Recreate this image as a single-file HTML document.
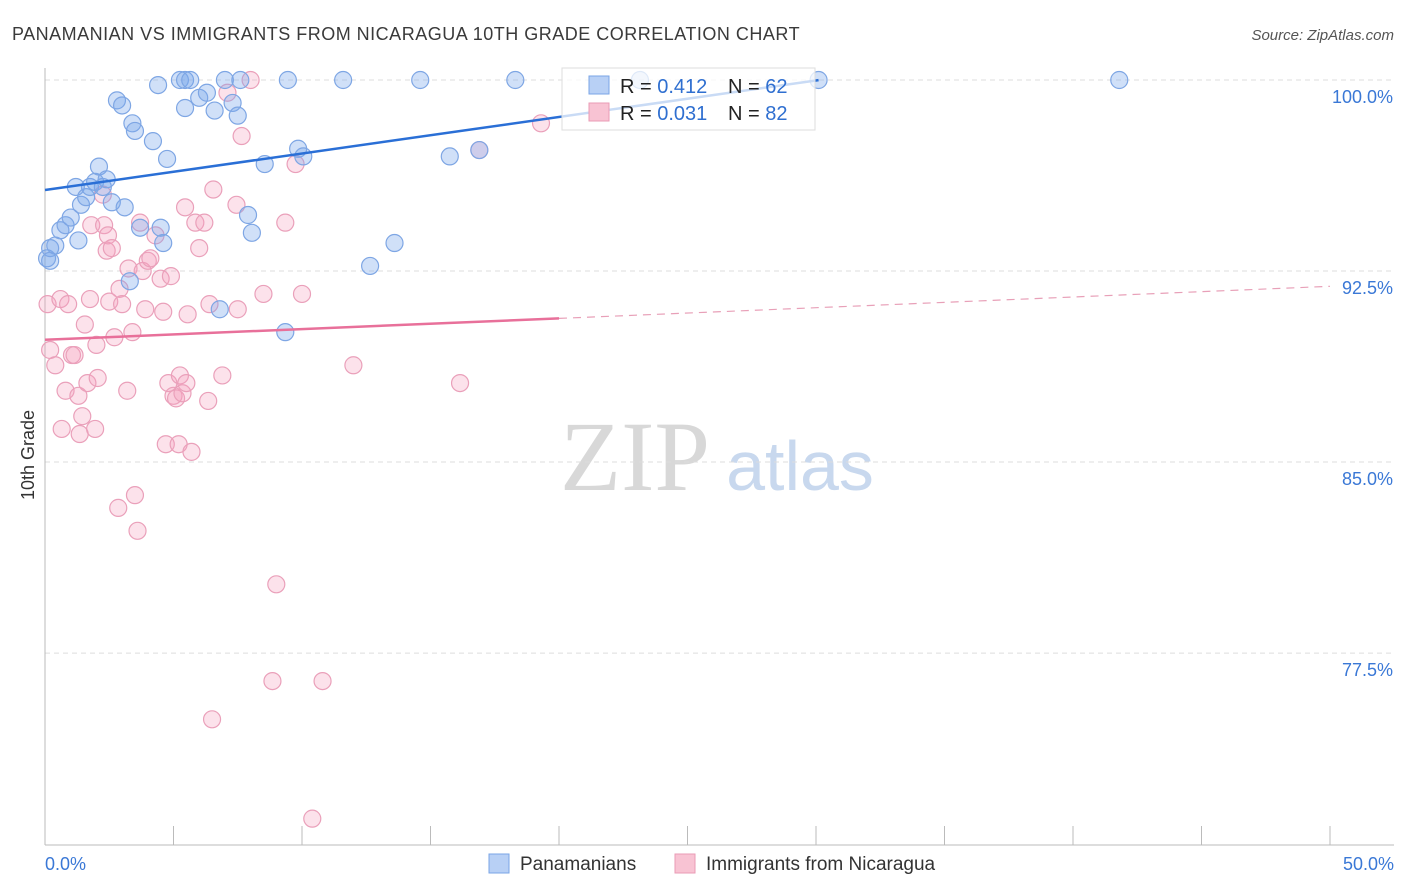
<!DOCTYPE html>
<html><head><meta charset="utf-8">
<style>
body{margin:0;background:#fff;font-family:"Liberation Sans",sans-serif;}
#wrap{position:relative;width:1406px;height:892px;overflow:hidden;}
</style></head>
<body>
<div id="wrap">
<svg id="svg" width="1406" height="892" xmlns="http://www.w3.org/2000/svg">
<text x="12" y="40" font-size="18" fill="#3a3a3a" letter-spacing="0.5">PANAMANIAN VS IMMIGRANTS FROM NICARAGUA 10TH GRADE CORRELATION CHART</text>
<text x="1394" y="40" font-size="15" fill="#555" font-style="italic" text-anchor="end">Source: ZipAtlas.com</text>
<text x="34" y="455" font-size="18" fill="#333" transform="rotate(-90 34 455)" text-anchor="middle">10th Grade</text>
<g>
<text x="635" y="490" font-size="100" fill="#d8d8d8" font-family="Liberation Serif,serif" text-anchor="middle">ZIP</text>
<text x="800" y="490" font-size="70" fill="#c8d8ee" text-anchor="middle">atlas</text>
</g>
<g id="grid"></g>
<g id="pts"></g>
<g id="trend"></g>
<g>
<rect x="562" y="68" width="253" height="62" fill="#fff" fill-opacity="0.75" stroke="#ddd"/>
<rect x="589" y="76" width="20" height="18" fill="#b8d0f5" stroke="#7aa5e6"/>
<rect x="589" y="103" width="20" height="18" fill="#f8c3d3" stroke="#ea9bb6"/>
<text x="620" y="93" font-size="20" fill="#222">R = <tspan fill="#2f6fd0">0.412</tspan></text>
<text x="728" y="93" font-size="20" fill="#222">N = <tspan fill="#2f6fd0">62</tspan></text>
<text x="620" y="120" font-size="20" fill="#222">R = <tspan fill="#2f6fd0">0.031</tspan></text>
<text x="728" y="120" font-size="20" fill="#222">N = <tspan fill="#2f6fd0">82</tspan></text>
</g>
<g>
<rect x="489" y="854" width="20" height="19" fill="#b8d0f5" stroke="#7aa5e6"/>
<text x="520" y="870" font-size="19" fill="#333">Panamanians</text>
<rect x="675" y="854" width="20" height="19" fill="#f8c3d3" stroke="#ea9bb6"/>
<text x="706" y="870" font-size="19" fill="#333">Immigrants from Nicaragua</text>
</g>
</svg>
</div>
<script>
const yTicks=[100,92.5,85,77.5];
const yTickLabels=["100.0%","92.5%","85.0%","77.5%"];
const xTickVals=[0,5,10,15,20,25,30,35,40,45,50];
const blueX=[0.08,0.2,0.4,0.6,0.8,1.0,1.2,1.3,1.4,1.6,1.75,1.95,2.1,2.25,2.4,2.6,2.8,3.0,3.1,3.4,3.5,3.7,4.2,4.4,4.5,4.6,4.75,5.25,5.45,5.45,5.65,6.0,6.3,6.6,6.8,7.0,7.3,7.5,7.6,7.9,8.05,8.55,9.45,9.85,10.05,9.35,11.6,12.65,13.6,14.6,15.75,16.9,18.3,23.15,30.1,41.8,0.2,3.3];
const blueY=[93.0,93.4,93.5,94.1,94.3,94.6,95.8,93.7,95.1,95.4,95.8,96.0,96.6,95.8,96.1,95.2,99.2,99.0,95.0,98.3,98.0,94.2,97.6,99.8,94.2,93.6,96.9,100,100,98.9,100,99.3,99.5,98.8,91.0,100,99.1,98.6,100,94.7,94.0,96.7,100,97.3,97.0,90.1,100,92.7,93.6,100,97.0,97.25,100,100,100,100,92.9,92.1];
const pinkX=[0.1,0.2,0.4,0.6,0.8,0.65,0.9,1.05,1.15,1.3,1.35,1.45,1.55,1.65,1.75,1.8,1.95,2.0,2.05,2.25,2.3,2.4,2.45,2.5,2.6,2.7,2.85,2.9,3.0,3.2,3.25,3.4,3.5,3.6,3.7,3.8,3.9,4.0,4.1,4.3,4.5,4.6,4.7,4.8,4.9,5.0,5.1,5.2,5.25,5.35,5.45,5.5,5.55,5.7,5.85,6.0,6.2,6.35,6.4,6.5,6.55,6.9,7.1,7.45,7.5,7.65,8.0,8.5,8.85,9.0,9.35,9.75,10.0,10.4,10.8,12.0,16.15,16.9,19.3];
const pinkY=[91.2,89.4,88.8,91.4,87.8,86.3,91.2,89.2,89.2,87.6,86.1,86.8,90.4,88.1,91.4,94.3,86.3,89.6,88.3,95.5,94.3,93.3,93.9,91.3,93.4,89.9,83.2,91.8,91.2,87.8,92.6,90.1,83.7,82.3,94.4,92.5,91.0,92.9,93.0,93.9,92.2,90.9,85.7,88.1,92.3,87.6,87.5,85.7,88.4,87.7,95.0,88.1,90.8,85.4,94.4,93.4,94.4,87.4,91.2,74.9,95.7,88.4,99.5,95.1,91.0,97.8,100,91.6,76.4,80.2,94.4,96.7,91.6,71.0,76.4,88.8,88.1,97.25,98.3];
const blueTrend=[95.68,0.1434];
const pinkTrend=[89.8,0.042];
const X=v=>45+v*25.7, Y=v=>80+(100-v)*25.47;
const NS="http://www.w3.org/2000/svg";
function mk(tag,at,par){const e=document.createElementNS(NS,tag);for(const k in at)e.setAttribute(k,at[k]);par.appendChild(e);return e;}
const grid=document.getElementById('grid');
yTicks.forEach((t,i)=>{
 const l=mk('line',{x1:45,x2:1394,y1:Y(t),y2:Y(t),stroke:'#ddd','stroke-dasharray':'5,4'},grid);
 
 
 const tx=mk('text',{x:1393,y:Y(t)+23,'font-size':18,fill:'#3a78d6','text-anchor':'end'},grid);
 tx.textContent=yTickLabels[i];
 
 
});
const ax=mk('line',{x1:45,x2:45,y1:68,y2:845,stroke:'#bbb'},grid);


const bx=mk('line',{x1:45,x2:1394,y1:845,y2:845,stroke:'#bbb'},grid);


xTickVals.forEach(t=>{
 const l=mk('line',{x1:X(t),x2:X(t),y1:826,y2:845,stroke:'#bbb'},grid);
 
 
});
[[0,'0.0%','start',45],[50,'50.0%','end',1394]].forEach(d=>{
 const tx=mk('text',{x:d[3],y:870,'font-size':18,fill:'#3a78d6','text-anchor':d[2]},grid);
 tx.textContent=d[1];
 
 
});
const pts=document.getElementById('pts');
pinkX.forEach((x,i)=>{
 const c=mk('circle',{cx:X(x),cy:Y(pinkY[i]),r:8.5,fill:'rgba(244,160,190,0.3)',stroke:'#eaa0ba','stroke-width':1.2},pts);
 
 
});
blueX.forEach((x,i)=>{
 const c=mk('circle',{cx:X(x),cy:Y(blueY[i]),r:8.5,fill:'rgba(120,165,235,0.35)',stroke:'#7ea6e4','stroke-width':1.2},pts);
 
 
});
const tr=document.getElementById('trend');
const b=mk('line',{x1:X(0),y1:Y(blueTrend[0]),x2:X(30.1),y2:Y(blueTrend[0]+blueTrend[1]*30.1),stroke:'#2a6fd6','stroke-width':2.5},tr);


const p1=mk('line',{x1:X(0),y1:Y(pinkTrend[0]),x2:X(20),y2:Y(pinkTrend[0]+pinkTrend[1]*20),stroke:'#e8709a','stroke-width':2.5},tr);


const p2=mk('line',{x1:X(20),y1:Y(pinkTrend[0]+pinkTrend[1]*20),x2:X(50),y2:Y(pinkTrend[0]+pinkTrend[1]*50),stroke:'#e8a0b8','stroke-width':1.2,'stroke-dasharray':'8,6'},tr);


</script>
</body></html>
